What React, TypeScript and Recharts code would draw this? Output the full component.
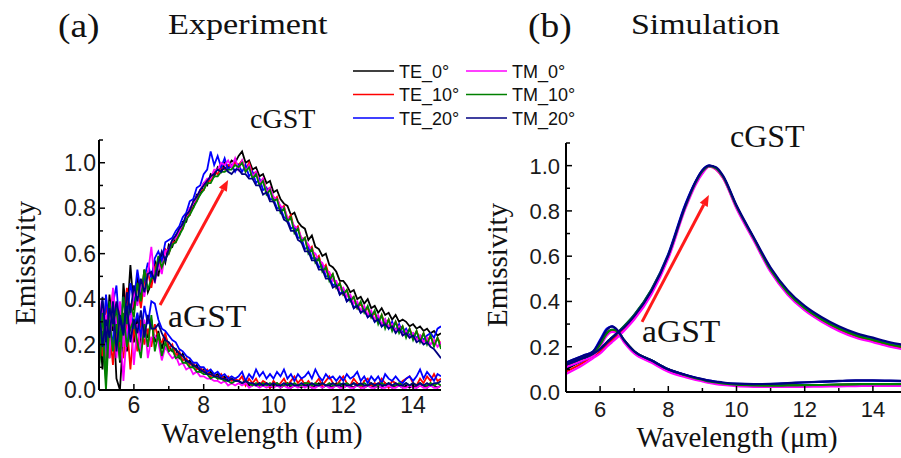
import { LineChart, Line, XAxis, YAxis, ReferenceLine } from 'recharts';

// ---- series (legend order) ----
const seriesNames = ['TE_0°', 'TE_10°', 'TE_20°', 'TM_0°', 'TM_10°', 'TM_20°'];
const seriesColors = ['#000000', '#ff0000', '#0000ff', '#ff00ff', '#008000', '#000080'];

// ---- (a) experiment, wavelength in µm (0.1 µm steps) ----
const wlExp = [
  5.0, 5.1, 5.2, 5.3, 5.4, 5.5, 5.6, 5.7, 5.8, 5.9,
  6.0, 6.1, 6.2, 6.3, 6.4, 6.5, 6.6, 6.7, 6.8, 6.9,
  7.0, 7.1, 7.2, 7.3, 7.4, 7.5, 7.6, 7.7, 7.8, 7.9,
  8.0, 8.1, 8.2, 8.3, 8.4, 8.5, 8.6, 8.7, 8.8, 8.9,
  9.0, 9.1, 9.2, 9.3, 9.4, 9.5, 9.6, 9.7, 9.8, 9.9,
  10.0, 10.1, 10.2, 10.3, 10.4, 10.5, 10.6, 10.7, 10.8, 10.9,
  11.0, 11.1, 11.2, 11.3, 11.4, 11.5, 11.6, 11.7, 11.8, 11.9,
  12.0, 12.1, 12.2, 12.3, 12.4, 12.5, 12.6, 12.7, 12.8, 12.9,
  13.0, 13.1, 13.2, 13.3, 13.4, 13.5, 13.6, 13.7, 13.8, 13.9,
  14.0, 14.1, 14.2, 14.3, 14.4, 14.5, 14.6, 14.7, 14.8,
];

// crystalline (cGST)
const expC_TE0 = [
  0.22, 0.38, 0.17, 0.42, 0.26, 0.33, 0.12, 0.47, 0.31, 0.55,
  0.35, 0.5, 0.4, 0.53, 0.43, 0.47, 0.57, 0.5, 0.6, 0.56,
  0.64, 0.63, 0.68, 0.68, 0.74, 0.74, 0.8, 0.8, 0.86, 0.86,
  0.91, 0.9, 0.95, 0.94, 0.98, 0.96, 1.0, 0.98, 1.01, 1.0,
  1.03, 1.05, 1.0, 1.01, 0.97, 0.98, 0.94, 0.95, 0.91, 0.92,
  0.87, 0.88, 0.84, 0.82, 0.81, 0.77, 0.78, 0.74, 0.72, 0.71,
  0.66, 0.68, 0.63, 0.62, 0.59, 0.6, 0.55, 0.54, 0.52, 0.48,
  0.48, 0.46, 0.43, 0.44, 0.4, 0.41, 0.38, 0.4, 0.36, 0.37,
  0.34, 0.36, 0.33, 0.34, 0.31, 0.33, 0.3, 0.31, 0.3, 0.28,
  0.29, 0.27, 0.28, 0.26, 0.27, 0.25, 0.26, 0.24, 0.25,
];
const expC_TE10 = [
  0.31, 0.15, 0.39, 0.25, 0.44, 0.2, 0.37, 0.28, 0.45, 0.27,
  0.42, 0.46, 0.36, 0.48, 0.52, 0.45, 0.54, 0.57, 0.53, 0.62,
  0.6, 0.65, 0.65, 0.7, 0.71, 0.77, 0.77, 0.83, 0.83, 0.88,
  0.88, 0.92, 0.92, 0.96, 0.95, 0.98, 0.97, 0.99, 0.98, 1.0,
  0.99, 1.01, 0.97, 1.0, 0.95, 0.96, 0.91, 0.93, 0.88, 0.89,
  0.83, 0.85, 0.8, 0.81, 0.75, 0.77, 0.7, 0.72, 0.66, 0.67,
  0.61, 0.63, 0.57, 0.59, 0.53, 0.55, 0.5, 0.51, 0.45, 0.47,
  0.42, 0.44, 0.4, 0.41, 0.36, 0.38, 0.35, 0.36, 0.32, 0.34,
  0.3, 0.33, 0.29, 0.31, 0.27, 0.3, 0.27, 0.28, 0.24, 0.27,
  0.23, 0.26, 0.22, 0.25, 0.21, 0.24, 0.2, 0.23, 0.2,
];
const expC_TE20 = [
  0.36, 0.19, 0.42, 0.27, 0.38, 0.46, 0.24, 0.41, 0.29, 0.47,
  0.39, 0.53, 0.43, 0.49, 0.56, 0.49, 0.58, 0.61, 0.57, 0.65,
  0.66, 0.67, 0.7, 0.72, 0.76, 0.78, 0.83, 0.84, 0.89, 0.9,
  0.95, 0.97, 1.05, 0.99, 1.03, 0.98, 1.02, 0.97, 0.99, 0.96,
  0.99, 0.96, 0.99, 0.94, 0.96, 0.91, 0.93, 0.88, 0.89, 0.84,
  0.84, 0.8, 0.8, 0.76, 0.75, 0.71, 0.72, 0.67, 0.67, 0.62,
  0.63, 0.58, 0.58, 0.54, 0.55, 0.5, 0.5, 0.46, 0.47, 0.42,
  0.44, 0.39, 0.41, 0.36, 0.38, 0.34, 0.36, 0.32, 0.34, 0.3,
  0.32, 0.28, 0.31, 0.27, 0.3, 0.26, 0.29, 0.25, 0.27, 0.24,
  0.25, 0.23, 0.24, 0.22, 0.24, 0.25, 0.23, 0.27, 0.28,
];
const expC_TM0 = [
  0.41, 0.24, 0.33, 0.14, 0.45, 0.29, 0.39, 0.19, 0.36, 0.29,
  0.44, 0.37, 0.47, 0.41, 0.51, 0.63, 0.47, 0.56, 0.51, 0.61,
  0.62, 0.66, 0.67, 0.7, 0.73, 0.76, 0.8, 0.82, 0.85, 0.88,
  0.91, 0.93, 0.93, 0.97, 0.97, 1.0, 0.99, 1.01, 0.98, 1.02,
  0.97, 1.01, 0.96, 0.99, 0.94, 0.96, 0.91, 0.93, 0.87, 0.89,
  0.85, 0.84, 0.81, 0.8, 0.76, 0.75, 0.72, 0.71, 0.67, 0.66,
  0.64, 0.61, 0.6, 0.57, 0.56, 0.52, 0.52, 0.48, 0.48, 0.44,
  0.45, 0.41, 0.42, 0.38, 0.39, 0.35, 0.37, 0.33, 0.35, 0.31,
  0.33, 0.29, 0.31, 0.28, 0.29, 0.26, 0.28, 0.24, 0.26, 0.23,
  0.25, 0.22, 0.24, 0.21, 0.23, 0.2, 0.22, 0.19, 0.21,
];
const expC_TM10 = [
  0.14, 0.34, 0.04, 0.39, 0.28, 0.36, 0.21, 0.41, 0.29, 0.38,
  0.32, 0.47, 0.39, 0.53, 0.44, 0.49, 0.5, 0.59, 0.54, 0.58,
  0.6, 0.64, 0.65, 0.68, 0.71, 0.75, 0.77, 0.8, 0.83, 0.86,
  0.88, 0.91, 0.91, 0.94, 0.94, 0.96, 0.96, 0.97, 0.97, 0.99,
  0.98, 1.0, 0.96, 0.98, 0.93, 0.95, 0.9, 0.92, 0.86, 0.88,
  0.83, 0.84, 0.78, 0.8, 0.74, 0.76, 0.69, 0.71, 0.65, 0.67,
  0.6, 0.62, 0.56, 0.58, 0.52, 0.54, 0.48, 0.51, 0.45, 0.47,
  0.42, 0.44, 0.39, 0.41, 0.36, 0.39, 0.34, 0.37, 0.32, 0.35,
  0.29, 0.33, 0.27, 0.31, 0.26, 0.3, 0.25, 0.28, 0.23, 0.27,
  0.22, 0.26, 0.21, 0.25, 0.2, 0.24, 0.19, 0.23, 0.18,
];
const expC_TM20 = [
  0.26, 0.41, 0.21, 0.36, 0.29, 0.39, 0.31, 0.24, 0.43, 0.34,
  0.46, 0.39, 0.49, 0.43, 0.51, 0.52, 0.48, 0.56, 0.61, 0.57,
  0.62, 0.66, 0.68, 0.71, 0.73, 0.77, 0.79, 0.83, 0.85, 0.88,
  0.9, 0.92, 0.94, 0.95, 0.97, 0.96, 0.98, 0.96, 0.95, 0.97,
  0.97, 0.95, 0.95, 0.93, 0.93, 0.9, 0.9, 0.86, 0.87, 0.83,
  0.83, 0.79, 0.79, 0.75, 0.74, 0.7, 0.7, 0.66, 0.65, 0.61,
  0.61, 0.57, 0.57, 0.53, 0.53, 0.49, 0.49, 0.45, 0.46, 0.42,
  0.43, 0.39, 0.4, 0.36, 0.37, 0.34, 0.35, 0.32, 0.33, 0.3,
  0.31, 0.28, 0.29, 0.27, 0.28, 0.25, 0.27, 0.24, 0.25, 0.23,
  0.24, 0.21, 0.22, 0.2, 0.21, 0.19, 0.18, 0.16, 0.14,
];

// amorphous (aGST)
const expA_TE0 = [
  0.3, 0.09, 0.29, 0.14, 0.36, 0.05, 0.0, 0.26, 0.17, 0.31,
  0.21, 0.33, 0.19, 0.29, 0.23, 0.31, 0.21, 0.26, 0.18, 0.24,
  0.19, 0.17, 0.18, 0.14, 0.16, 0.12, 0.13, 0.1, 0.11, 0.08,
  0.09, 0.07, 0.08, 0.06, 0.07, 0.05, 0.06, 0.04, 0.05, 0.04,
  0.04, 0.03, 0.04, 0.02, 0.03, 0.02, 0.03, 0.02, 0.03, 0.01,
  0.02, 0.03, 0.01, 0.02, 0.03, 0.01, 0.02, 0.02, 0.01, 0.03,
  0.02, 0.01, 0.02, 0.03, 0.01, 0.02, 0.02, 0.01, 0.03, 0.02,
  0.01, 0.02, 0.02, 0.01, 0.03, 0.02, 0.01, 0.02, 0.02, 0.01,
  0.02, 0.01, 0.03, 0.02, 0.01, 0.02, 0.02, 0.01, 0.02, 0.01,
  0.02, 0.01, 0.02, 0.02, 0.01, 0.03, 0.02, 0.01, 0.02,
];
const expA_TE10 = [
  0.18, 0.31, 0.07, 0.27, 0.11, 0.34, 0.19, 0.14, 0.29, 0.09,
  0.28, 0.17, 0.31, 0.2, 0.27, 0.19, 0.29, 0.22, 0.21, 0.25,
  0.18, 0.2, 0.15, 0.17, 0.13, 0.14, 0.11, 0.12, 0.09, 0.1,
  0.08, 0.09, 0.06, 0.07, 0.05, 0.07, 0.04, 0.06, 0.04, 0.05,
  0.04, 0.06, 0.02, 0.05, 0.03, 0.05, 0.02, 0.04, 0.03, 0.01,
  0.04, 0.02, 0.03, 0.05, 0.02, 0.04, 0.06, 0.03, 0.05, 0.02,
  0.04, 0.02, 0.03, 0.05, 0.02, 0.04, 0.06, 0.03, 0.02, 0.04,
  0.06, 0.03, 0.02, 0.05, 0.03, 0.01, 0.04, 0.05, 0.02, 0.03,
  0.02, 0.05, 0.03, 0.01, 0.04, 0.03, 0.02, 0.04, 0.05, 0.06,
  0.03, 0.02, 0.05, 0.03, 0.06, 0.04, 0.07, 0.04, 0.05,
];
const expA_TE20 = [
  0.24, 0.39, 0.14, 0.33, 0.19, 0.37, 0.25, 0.31, 0.21, 0.35,
  0.27, 0.34, 0.23, 0.37, 0.29, 0.39, 0.38, 0.31, 0.27, 0.26,
  0.24, 0.22, 0.21, 0.18, 0.17, 0.15, 0.14, 0.12, 0.12, 0.1,
  0.1, 0.08, 0.09, 0.07, 0.08, 0.06, 0.07, 0.05, 0.06, 0.05,
  0.06, 0.08, 0.04, 0.07, 0.05, 0.09, 0.06, 0.08, 0.05, 0.07,
  0.05, 0.08, 0.06, 0.09, 0.05, 0.07, 0.04, 0.07, 0.05, 0.06,
  0.08, 0.05, 0.09, 0.06, 0.04, 0.07, 0.05, 0.06, 0.04, 0.06,
  0.04, 0.07, 0.05, 0.06, 0.08, 0.04, 0.06, 0.03, 0.06, 0.04,
  0.06, 0.03, 0.07, 0.05, 0.04, 0.06, 0.04, 0.03, 0.05, 0.06,
  0.04, 0.06, 0.09, 0.05, 0.08, 0.06, 0.04, 0.07, 0.06,
];
const expA_TM0 = [
  0.19, 0.36, 0.09, 0.29, 0.41, 0.14, 0.31, 0.04, 0.26, 0.33,
  0.11, 0.29, 0.17, 0.31, 0.14, 0.23, 0.24, 0.21, 0.13, 0.19,
  0.16, 0.14, 0.15, 0.11, 0.12, 0.09, 0.1, 0.07, 0.08, 0.06,
  0.06, 0.05, 0.05, 0.04, 0.04, 0.03, 0.04, 0.02, 0.03, 0.02,
  0.03, 0.02, 0.03, 0.01, 0.02, 0.02, 0.01, 0.02, 0.01, 0.02,
  0.01, 0.02, 0.01, 0.02, 0.01, 0.01, 0.02, 0.01, 0.02, 0.01,
  0.02, 0.01, 0.01, 0.02, 0.01, 0.02, 0.01, 0.01, 0.02, 0.01,
  0.01, 0.02, 0.01, 0.01, 0.02, 0.01, 0.01, 0.02, 0.01, 0.01,
  0.02, 0.01, 0.01, 0.02, 0.01, 0.01, 0.02, 0.01, 0.01, 0.02,
  0.01, 0.01, 0.02, 0.01, 0.01, 0.02, 0.01, 0.01, 0.02,
];
const expA_TM10 = [
  0.09, 0.26, 0.0, 0.31, 0.17, 0.29, 0.13, 0.34, 0.19, 0.27,
  0.31, 0.21, 0.14, 0.29, 0.19, 0.33, 0.17, 0.25, 0.15, 0.21,
  0.17, 0.18, 0.14, 0.15, 0.12, 0.12, 0.1, 0.1, 0.08, 0.08,
  0.07, 0.07, 0.05, 0.06, 0.05, 0.05, 0.04, 0.04, 0.03, 0.04,
  0.04, 0.03, 0.04, 0.03, 0.02, 0.03, 0.02, 0.03, 0.02, 0.03,
  0.02, 0.03, 0.02, 0.02, 0.03, 0.02, 0.03, 0.02, 0.02, 0.03,
  0.03, 0.02, 0.03, 0.02, 0.03, 0.02, 0.03, 0.02, 0.02, 0.03,
  0.02, 0.03, 0.02, 0.03, 0.02, 0.02, 0.03, 0.02, 0.03, 0.02,
  0.02, 0.03, 0.02, 0.03, 0.02, 0.02, 0.03, 0.02, 0.03, 0.02,
  0.03, 0.02, 0.03, 0.02, 0.02, 0.03, 0.02, 0.03, 0.02,
];
const expA_TM20 = [
  0.36, 0.19, 0.31, 0.23, 0.39, 0.17, 0.33, 0.25, 0.37, 0.21,
  0.31, 0.25, 0.35, 0.23, 0.33, 0.27, 0.27, 0.29, 0.25, 0.22,
  0.21, 0.19, 0.18, 0.16, 0.15, 0.13, 0.12, 0.11, 0.1, 0.09,
  0.08, 0.07, 0.07, 0.06, 0.06, 0.05, 0.05, 0.04, 0.05, 0.04,
  0.04, 0.03, 0.04, 0.03, 0.03, 0.02, 0.03, 0.02, 0.03, 0.02,
  0.03, 0.02, 0.02, 0.03, 0.02, 0.03, 0.02, 0.02, 0.03, 0.02,
  0.02, 0.03, 0.02, 0.02, 0.03, 0.02, 0.02, 0.03, 0.02, 0.02,
  0.03, 0.02, 0.02, 0.03, 0.02, 0.03, 0.02, 0.02, 0.03, 0.02,
  0.03, 0.02, 0.02, 0.03, 0.02, 0.03, 0.02, 0.02, 0.03, 0.02,
  0.03, 0.02, 0.03, 0.02, 0.03, 0.02, 0.03, 0.03, 0.04,
];

// ---- (b) simulation ----
const wlSim = [
  5, 5.5, 5.8, 6.0, 6.2, 6.35, 6.5, 6.7, 7, 7.5,
  8, 8.5, 8.8, 9.0, 9.2, 9.4, 9.6, 10, 10.5, 11,
  11.5, 12, 12.5, 13, 13.5, 14, 14.5, 15,
];

const simC_TE0 = [0.1, 0.14, 0.16, 0.18, 0.21, 0.23, 0.25, 0.28, 0.33, 0.44, 0.6, 0.82, 0.925, 0.975, 1.0, 0.988, 0.952, 0.82, 0.68, 0.54, 0.44, 0.37, 0.32, 0.28, 0.25, 0.23, 0.21, 0.195];
const simC_TE10 = [0.09, 0.13, 0.16, 0.18, 0.21, 0.23, 0.25, 0.28, 0.33, 0.44, 0.6, 0.82, 0.92, 0.97, 0.995, 0.983, 0.947, 0.815, 0.675, 0.535, 0.435, 0.365, 0.315, 0.275, 0.245, 0.225, 0.205, 0.19];
const simC_TE20 = [0.11, 0.14, 0.17, 0.19, 0.22, 0.24, 0.26, 0.29, 0.34, 0.45, 0.61, 0.83, 0.93, 0.98, 1.0, 0.988, 0.952, 0.82, 0.68, 0.545, 0.445, 0.375, 0.325, 0.285, 0.255, 0.235, 0.215, 0.2];
const simC_TM0 = [0.08, 0.12, 0.15, 0.17, 0.2, 0.22, 0.24, 0.27, 0.32, 0.43, 0.59, 0.81, 0.915, 0.965, 0.995, 0.983, 0.947, 0.81, 0.67, 0.53, 0.43, 0.36, 0.31, 0.27, 0.24, 0.22, 0.2, 0.185];
const simC_TM10 = [0.12, 0.15, 0.17, 0.19, 0.22, 0.24, 0.26, 0.29, 0.34, 0.45, 0.605, 0.82, 0.925, 0.975, 0.998, 0.988, 0.952, 0.82, 0.68, 0.54, 0.44, 0.37, 0.32, 0.28, 0.25, 0.23, 0.21, 0.195];
const simC_TM20 = [0.12, 0.15, 0.17, 0.19, 0.22, 0.24, 0.26, 0.285, 0.335, 0.445, 0.605, 0.825, 0.93, 0.98, 1.0, 0.993, 0.957, 0.825, 0.685, 0.55, 0.45, 0.38, 0.33, 0.29, 0.26, 0.24, 0.22, 0.205];

const simA_TE0 = [0.12, 0.15, 0.17, 0.21, 0.26, 0.275, 0.27, 0.23, 0.18, 0.14, 0.1, 0.075, 0.062, 0.055, 0.048, 0.043, 0.039, 0.033, 0.03, 0.029, 0.029, 0.03, 0.031, 0.033, 0.034, 0.035, 0.035, 0.034];
const simA_TE10 = [0.115, 0.145, 0.165, 0.205, 0.255, 0.27, 0.265, 0.225, 0.175, 0.135, 0.095, 0.07, 0.058, 0.052, 0.045, 0.04, 0.036, 0.03, 0.027, 0.026, 0.026, 0.027, 0.028, 0.029, 0.03, 0.031, 0.031, 0.03];
const simA_TE20 = [0.13, 0.16, 0.18, 0.23, 0.28, 0.29, 0.27, 0.225, 0.175, 0.14, 0.1, 0.075, 0.063, 0.056, 0.05, 0.045, 0.041, 0.036, 0.034, 0.035, 0.038, 0.042, 0.045, 0.048, 0.05, 0.05, 0.049, 0.047];
const simA_TM0 = [0.11, 0.14, 0.16, 0.2, 0.25, 0.265, 0.26, 0.22, 0.17, 0.13, 0.09, 0.065, 0.053, 0.047, 0.04, 0.035, 0.031, 0.026, 0.023, 0.022, 0.022, 0.023, 0.024, 0.025, 0.026, 0.027, 0.027, 0.026];
const simA_TM10 = [0.125, 0.15, 0.17, 0.21, 0.26, 0.275, 0.27, 0.23, 0.18, 0.14, 0.1, 0.074, 0.061, 0.054, 0.047, 0.042, 0.038, 0.032, 0.029, 0.028, 0.029, 0.03, 0.031, 0.033, 0.034, 0.035, 0.035, 0.034];
const simA_TM20 = [0.13, 0.16, 0.18, 0.225, 0.275, 0.29, 0.275, 0.23, 0.18, 0.14, 0.1, 0.076, 0.064, 0.057, 0.05, 0.046, 0.042, 0.037, 0.035, 0.036, 0.039, 0.043, 0.046, 0.049, 0.051, 0.051, 0.05, 0.048];

// ---- axes ----
const yTicks = [0, 0.1, 0.2, 0.3, 0.4, 0.5, 0.6, 0.7, 0.8, 0.9, 1.0, 1.1];
const xTicksExp = [5, 6, 7, 8, 9, 10, 11, 12, 13, 14];
const xTicksSim = [5, 6, 7, 8, 9, 10, 11, 12, 13, 14, 15];

// red arrows aGST -> cGST, in data units
const arrowExp = [{ x: 6.75, y: 0.374 }, { x: 8.7, y: 0.924 }];
const arrowSim = [{ x: 7.23, y: 0.31 }, { x: 9.19, y: 0.87 }];

const serif = '"Liberation Serif", "Times New Roman", serif';
const sans = '"Liberation Sans", Arial, sans-serif';

const toRows = (xs: number[], ys: number[]) => xs.map((x, i) => ({ x, y: ys[i] }));

function makeYTick(gap: number, size: number) {
  return (props: any) => {
    const { x, y, payload } = props;
    const v = payload.value as number;
    const tenth = Math.round(v * 10);
    const major = tenth % 2 === 0;
    return (
      <g>
        <line x1={x} x2={x + (major ? 6 : 4)} y1={y} y2={y} stroke="#000" strokeWidth={1.5} />
        {major && tenth <= 10 && (
          <text x={x - gap} y={y + size * 0.36} textAnchor="end" fontSize={size} fontFamily={sans} fill="#1a1a1a">
            {v.toFixed(1)}
          </text>
        )}
      </g>
    );
  };
}

function makeXTick(dy: number, size: number) {
  return (props: any) => {
    const { x, y, payload } = props;
    const v = payload.value as number;
    const major = v % 2 === 0;
    return (
      <g>
        <line x1={x} x2={x} y1={y} y2={y - (major ? 6 : 4)} stroke="#000" strokeWidth={1.5} />
        {major && (
          <text x={x} y={y + dy} textAnchor="middle" fontSize={size} fontFamily={sans} fill="#1a1a1a">
            {v}
          </text>
        )}
      </g>
    );
  };
}

const arrowShape = (props: any) => {
  const { x1, y1, x2, y2 } = props;
  const a = Math.atan2(y2 - y1, x2 - x1);
  const len = 11;
  const half = 4.5;
  const bx = x2 - len * Math.cos(a);
  const by = y2 - len * Math.sin(a);
  const px = -Math.sin(a) * half;
  const py = Math.cos(a) * half;
  return (
    <g>
      <line x1={x1} y1={y1} x2={bx} y2={by} stroke="#ff1a1a" strokeWidth={3} />
      <polygon points={`${x2},${y2} ${bx + px},${by + py} ${bx - px},${by - py}`} fill="#ff1a1a" />
    </g>
  );
};

interface PanelProps {
  xs: number[];
  cryst: number[][];
  amorph: number[][];
  xDomain: [number, number];
  xTicks: number[];
  margin: { top: number; right: number; bottom: number; left: number };
  strokeWidth: number;
  yGap: number;
  xDy: number;
  tickSize: number;
  curve: 'linear' | 'monotone';
  arrow: { x: number; y: number }[];
}

function Panel({ xs, cryst, amorph, xDomain, xTicks, margin, strokeWidth, yGap, xDy, tickSize, curve, arrow }: PanelProps) {
  return (
    <LineChart width={460} height={458} margin={margin}>
      <XAxis
        type="number"
        dataKey="x"
        domain={xDomain}
        allowDataOverflow
        ticks={xTicks}
        interval={0}
        height={30}
        tickSize={0}
        tickMargin={0}
        tickLine={false}
        axisLine={{ stroke: '#000', strokeWidth: 2 }}
        tick={makeXTick(xDy, tickSize)}
      />
      <YAxis
        type="number"
        domain={[0, 1.1]}
        allowDataOverflow
        ticks={yTicks}
        interval={0}
        width={60}
        tickSize={0}
        tickMargin={0}
        tickLine={false}
        axisLine={{ stroke: '#000', strokeWidth: 2 }}
        tick={makeYTick(yGap, tickSize)}
      />
      {seriesNames.map((name, i) => [
        <Line
          key={`c-${name}`}
          data={toRows(xs, cryst[i])}
          dataKey="y"
          name={`${name} cGST`}
          type={curve}
          stroke={seriesColors[i]}
          strokeWidth={strokeWidth}
          dot={false}
          activeDot={false}
          isAnimationActive={false}
        />,
        <Line
          key={`a-${name}`}
          data={toRows(xs, amorph[i])}
          dataKey="y"
          name={`${name} aGST`}
          type={curve}
          stroke={seriesColors[i]}
          strokeWidth={strokeWidth}
          dot={false}
          activeDot={false}
          isAnimationActive={false}
        />,
      ])}
      <ReferenceLine segment={arrow} shape={arrowShape} ifOverflow="visible" />
    </LineChart>
  );
}

function Label({ x, y, size, sx = 1, children }: { x: number; y: number; size: number; sx?: number; children: string }) {
  return (
    <text transform={`translate(${x},${y}) scale(${sx},1)`} fontSize={size} fontFamily={serif} fill="#111">
      {children}
    </text>
  );
}

export default function App() {
  const legendRows = [71, 94.5, 118];
  return (
    <div style={{ position: 'absolute', left: 0, top: 0, width: 901, height: 458, overflow: 'hidden', background: '#fff' }}>
      <div style={{ position: 'absolute', left: 0, top: 0 }}>
        <Panel
          xs={wlExp}
          cryst={[expC_TE0, expC_TE10, expC_TE20, expC_TM0, expC_TM10, expC_TM20]}
          amorph={[expA_TE0, expA_TE10, expA_TE20, expA_TM0, expA_TM10, expA_TM20]}
          xDomain={[5, 14.8]}
          xTicks={xTicksExp}
          margin={{ top: 140, right: 19, bottom: 38, left: 39 }}
          strokeWidth={1.8}
          yGap={3}
          xDy={23}
          tickSize={23}
          curve="linear"
          arrow={arrowExp}
        />
      </div>
      <div style={{ position: 'absolute', left: 470, top: 0 }}>
        <Panel
          xs={wlSim}
          cryst={[simC_TE0, simC_TE10, simC_TE20, simC_TM0, simC_TM10, simC_TM20]}
          amorph={[simA_TE0, simA_TE10, simA_TE20, simA_TM0, simA_TM10, simA_TM20]}
          xDomain={[5, 15]}
          xTicks={xTicksSim}
          margin={{ top: 143, right: 23, bottom: 36, left: 36 }}
          strokeWidth={2.2}
          yGap={6}
          xDy={25}
          tickSize={22}
          curve="monotone"
          arrow={arrowSim}
        />
      </div>
      <svg width={901} height={458} style={{ position: 'absolute', left: 0, top: 0, pointerEvents: 'none' }}>
        <Label x={58} y={37} size={34} sx={1.1}>(a)</Label>
        <Label x={168} y={34} size={30} sx={1.14}>Experiment</Label>
        <Label x={528} y={37} size={34} sx={1.1}>(b)</Label>
        <Label x={631} y={34} size={30} sx={1.13}>Simulation</Label>

        <Label x={250} y={128} size={28}>cGST</Label>
        <Label x={168} y={327} size={32} sx={1.05}>aGST</Label>
        <Label x={730} y={147} size={32}>cGST</Label>
        <Label x={642} y={342} size={32} sx={1.05}>aGST</Label>

        <text transform="translate(35,263) rotate(-90)" textAnchor="middle" fontSize={29} fontFamily={serif} fill="#111">Emissivity</text>
        <text transform="translate(507,265) rotate(-90)" textAnchor="middle" fontSize={29} fontFamily={serif} fill="#111">Emissivity</text>
        <text transform="translate(262,443) scale(0.96,1)" textAnchor="middle" fontSize={30} fontFamily={serif} fill="#111">Wavelength (μm)</text>
        <text transform="translate(737,447) scale(0.96,1)" textAnchor="middle" fontSize={30} fontFamily={serif} fill="#111">Wavelength (μm)</text>

        {seriesNames.map((name, i) => {
          const col = i < 3 ? 0 : 1;
          const y = legendRows[i % 3];
          const x0 = col === 0 ? 353 : 466;
          return (
            <g key={name}>
              <line x1={x0} x2={x0 + 41} y1={y} y2={y} stroke={seriesColors[i]} strokeWidth={1.5} />
              <text x={x0 + 46} y={y + 6.5} fontSize={18} fontFamily={sans} fill="#111">{name}</text>
            </g>
          );
        })}
      </svg>
    </div>
  );
}
